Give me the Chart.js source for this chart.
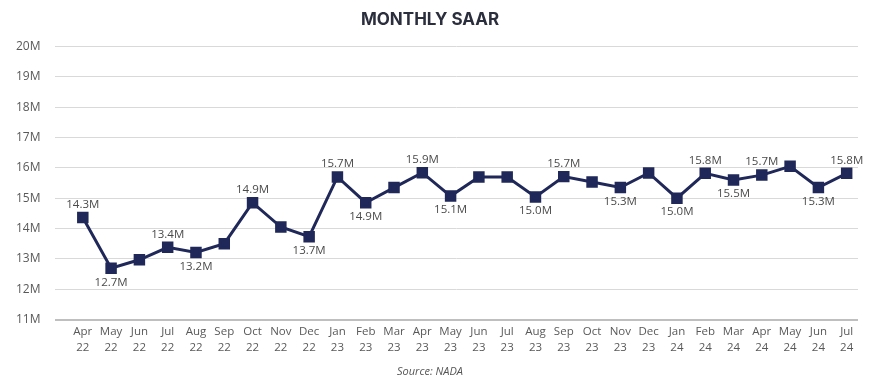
<!DOCTYPE html>
<html>
<head>
<meta charset="utf-8">
<script src="https://cdn.jsdelivr.net/npm/chart.js@4"></script>
<style>
  html, body { margin: 0; padding: 0; background: #fff; }
  #wrap { width: 870px; height: 380px; }
</style>
</head>
<body>
<div id="wrap"><canvas id="saarChart"></canvas></div>
<script>
// months shown on the x axis (two lines each)
var months = ['Apr','May','Jun','Jul','Aug','Sep','Oct','Nov','Dec',
              'Jan','Feb','Mar','Apr','May','Jun','Jul','Aug','Sep','Oct','Nov','Dec',
              'Jan','Feb','Mar','Apr','May','Jun','Jul'];
var years = ['22','22','22','22','22','22','22','22','22',
             '23','23','23','23','23','23','23','23','23','23','23','23',
             '24','24','24','24','24','24','24'];

// SAAR in millions
var saar = [14.36, 12.69, 12.97, 13.38, 13.21, 13.5, 14.85, 14.05, 13.73,
            15.7, 14.85, 15.35, 15.84, 15.07, 15.7, 15.7, 15.04, 15.71, 15.53, 15.35, 15.83,
            15.0, 15.82, 15.6, 15.76, 16.05, 15.35, 15.82];

// data labels as printed, and where they sit ('' = none)
var pointLabels = ['14.3M','12.7M','','13.4M','13.2M','','14.9M','','13.7M',
                   '15.7M','14.9M','','15.9M','15.1M','','','15.0M','15.7M','','15.3M','',
                   '15.0M','15.8M','15.5M','15.7M','','15.3M','15.8M'];
var labelSide = ['up','down','','up','down','','up','','down',
                 'up','down','','up','down','','','down','up','','down','',
                 'down','up','down','up','','down','up'];

var yTicks = [11, 12, 13, 14, 15, 16, 17, 18, 19, 20];

var navy = '#1f2859';

var pointLabelPlugin = {
    id: 'pointLabels',
    afterDatasetsDraw: function(chart) {
        var ctx = chart.ctx;
        var meta = chart.getDatasetMeta(0);
        ctx.save();
        ctx.font = '11.5px "Open Sans", sans-serif';
        ctx.fillStyle = '#4a4a4a';
        ctx.textAlign = 'center';
        ctx.textBaseline = 'middle';
        meta.data.forEach(function(pt, i) {
            if (!pointLabels[i]) return;
            var dy = labelSide[i] === 'up' ? -13 : 14;
            ctx.fillText(pointLabels[i], pt.x, pt.y + dy);
        });
        ctx.restore();
    }
};

var ctx = document.getElementById('saarChart').getContext('2d');
var saarChart = new Chart(ctx, {
    type: 'line',
    data: {
        datasets: [{
            data: saar.map(function(v, i) { return { x: i, y: v }; }),
            borderColor: navy,
            backgroundColor: navy,
            borderWidth: 3,
            pointStyle: 'rect',
            pointRadius: 6,
            pointHoverRadius: 6,
            tension: 0
        }]
    },
    options: {
        responsive: true,
        maintainAspectRatio: false,
        animation: false,
        layout: { padding: { left: 2, right: 12, top: 0, bottom: 0 } },
        plugins: {
            legend: { display: false },
            tooltip: { enabled: false },
            title: {
                display: true,
                text: 'MONTHLY SAAR',
                color: '#2b2f3d',
                font: { family: 'Inter', size: 17, weight: 'bold' },
                padding: { top: 10, bottom: 16 }
            },
            subtitle: {
                display: true,
                position: 'bottom',
                text: 'Source: NADA',
                color: '#555',
                font: { family: '"Open Sans"', size: 11, style: 'italic' },
                padding: { top: 5, bottom: 2 }
            }
        },
        scales: {
            x: {
                type: 'linear',
                min: -1,
                max: 27.4,
                grid: { display: false, drawTicks: false },
                border: { display: false },
                afterBuildTicks: function(axis) {
                    axis.ticks = months.map(function(m, i) { return { value: i }; });
                },
                ticks: {
                    autoSkip: false,
                    maxRotation: 0,
                    color: '#595959',
                    padding: 4,
                    font: { family: '"Open Sans"', size: 11.5, lineHeight: 1.4 },
                    callback: function(v) { return [months[v], years[v]]; }
                }
            },
            y: {
                min: 11,
                max: 20,
                afterBuildTicks: function(axis) {
                    axis.ticks = yTicks.map(function(v) { return { value: v }; });
                },
                grid: {
                    color: function(c) { return c.tick.value === 11 ? '#bfbfbf' : '#d9d9d9'; },
                    lineWidth: function(c) { return c.tick.value === 11 ? 2 : 1; },
                    drawTicks: false
                },
                border: { display: false },
                ticks: {
                    color: '#595959',
                    padding: 14,
                    font: { family: '"Open Sans"', size: 12 },
                    callback: function(v) { return v + 'M'; }
                }
            }
        }
    },
    plugins: [pointLabelPlugin]
});
</script>
</body>
</html>
